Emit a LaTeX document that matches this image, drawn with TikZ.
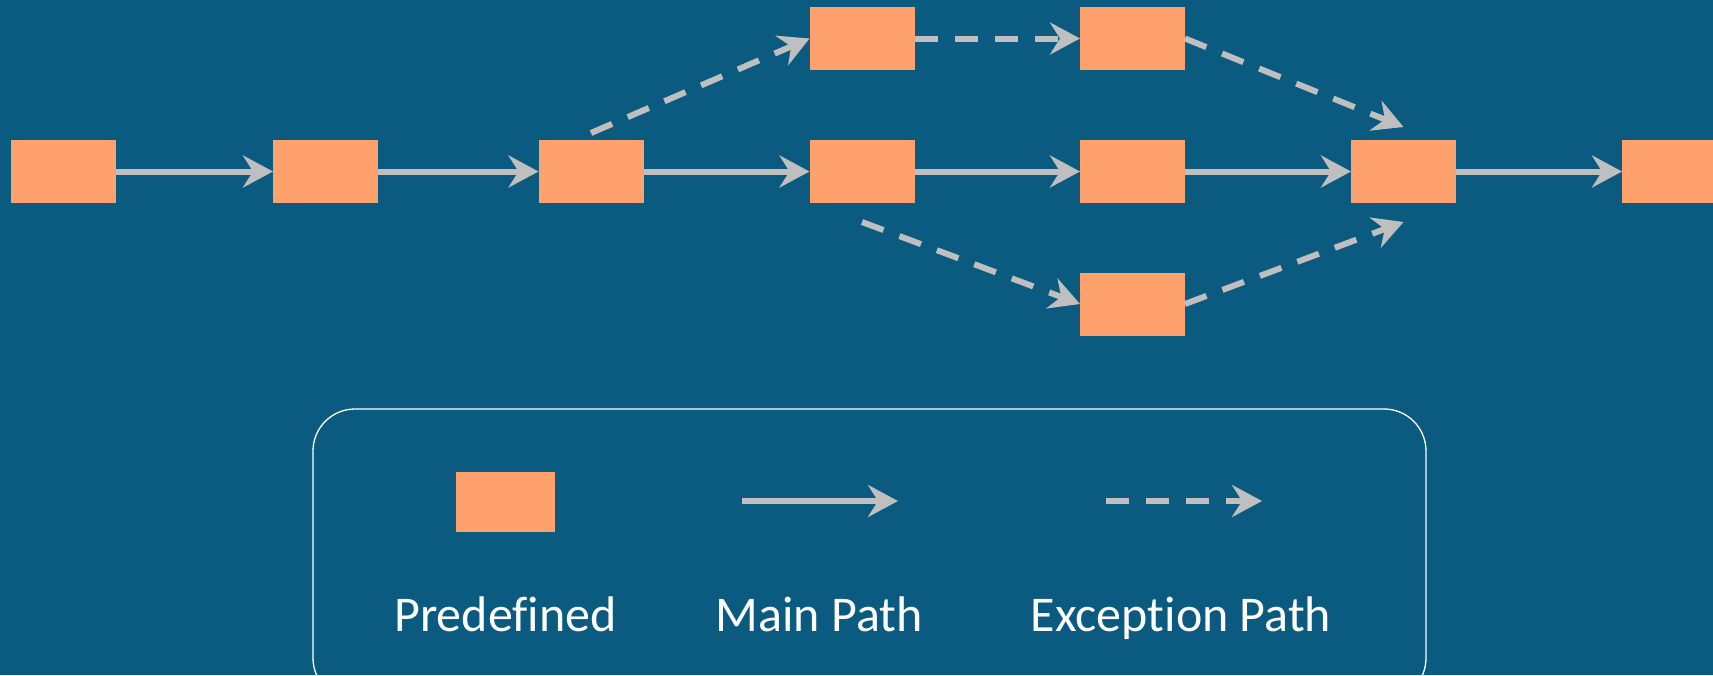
\documentclass[tikz,border=0pt]{standalone}
\usepackage{fontspec}
\setmainfont{Carlito}[Ligatures=NoCommon]
\usetikzlibrary{arrows.meta}
\definecolor{bg}{RGB}{11,90,128}
\definecolor{boxc}{RGB}{255,161,108}
\definecolor{arr}{RGB}{191,191,191}
\tikzset{
  stepbox/.style={fill=boxc, draw=none, minimum width=105pt, minimum height=63pt, inner sep=0pt, outer sep=0pt},
  mainarr/.style={draw=arr, line width=6pt, -{Stealth[length=30pt,width=32pt,inset=10pt]}},
  excarr/.style={mainarr, dash pattern=on 23pt off 17pt},
  legtext/.style={text=white, font=\fontsize{50}{60}\selectfont, anchor=base, inner sep=0pt}
}
\begin{document}
\begin{tikzpicture}[x=1pt,y=-1pt]
\useasboundingbox (0,0) rectangle (1713,675);
\fill[bg] (0,0) rectangle (1713,675);
% main row
\node[stepbox] (b1) at (63.5,171.5) {};
\node[stepbox] (b2) at (325.5,171.5) {};
\node[stepbox] (b3) at (591,171.5) {};
\node[stepbox] (b4) at (862,171.5) {};
\node[stepbox] (b5) at (1132.5,171.5) {};
\node[stepbox] (b6) at (1403.5,171.5) {};
\node[stepbox] (b7) at (1674.5,171.5) {};
% top row
\node[stepbox] (t1) at (862,38.5) {};
\node[stepbox] (t2) at (1132.5,38.5) {};
% bottom
\node[stepbox] (d1) at (1132.5,304) {};
% main arrows
\draw[mainarr] (b1.east) -- (b2.west);
\draw[mainarr] (b2.east) -- (b3.west);
\draw[mainarr] (b3.east) -- (b4.west);
\draw[mainarr] (b4.east) -- (b5.west);
\draw[mainarr] (b5.east) -- (b6.west);
\draw[mainarr] (b6.east) -- (b7.west);
% exception arrows
\draw[excarr] ([yshift=7pt]b3.north) -- (t1.west);
\draw[excarr] (t1.east) -- (t2.west);
\draw[excarr] (t2.east) -- ([yshift=13pt]b6.north);
\draw[excarr] ([yshift=-19pt]b4.south) -- (d1.west);
\draw[excarr] (d1.east) -- ([yshift=-19pt]b6.south);
% legend
\draw[white, line width=1.3pt, rounded corners=42pt] (313,409) rectangle (1426,700);
\node[stepbox, minimum width=99pt, minimum height=60pt] (lbox) at (505.5,502) {};
\coordinate (lm1) at (742,501);
\coordinate (lm2) at (898,501);
\coordinate (le1) at (1106,501);
\coordinate (le2) at (1262,501);
\draw[mainarr] (lm1) -- (lm2);
\draw[excarr] (le1) -- (le2);
\node[legtext] (t-pre) at (505.5,631) {Predefined};
\node[legtext] (t-main) at (819,631) {Main Path};
\node[legtext] (t-exc) at (1181,631) {Exception Path};
\end{tikzpicture}
\end{document}
